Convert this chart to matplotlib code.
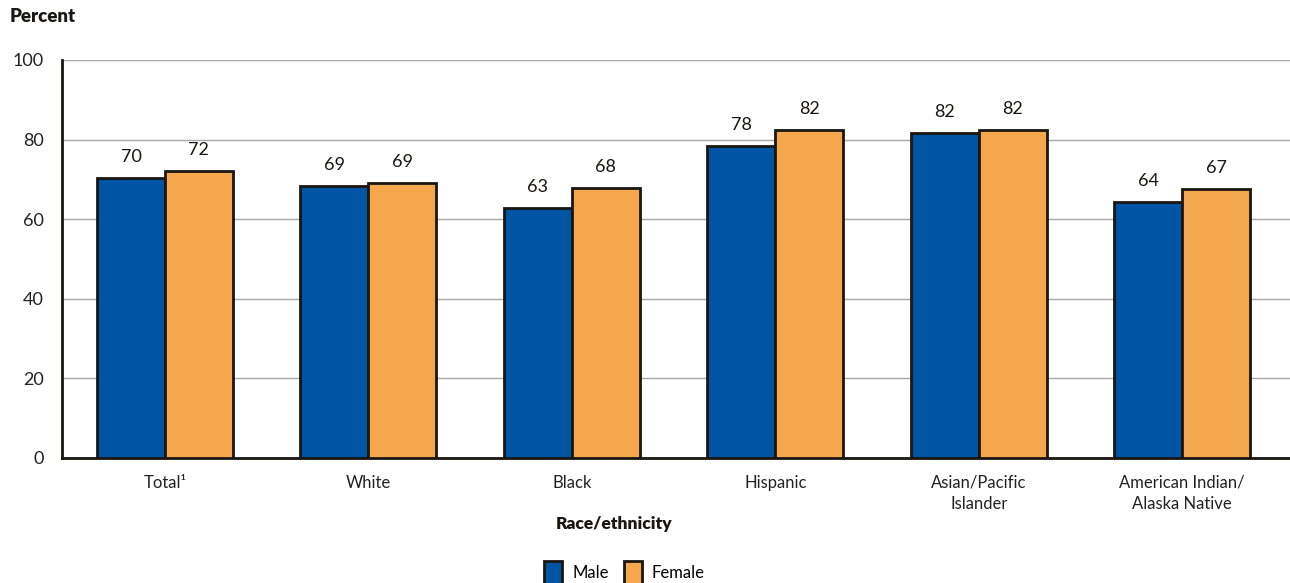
import numpy as np
import matplotlib.pyplot as plt

plt.rcParams['font.family'] = ['Lato', 'DejaVu Sans']

groups = ["Total\u00b9", "White", "Black", "Hispanic",
          "Asian/Pacific\nIslander", "American Indian/\nAlaska Native"]
male = [70.4, 68.4, 62.7, 78.3, 81.7, 64.3]
female = [72.1, 69.1, 67.8, 82.3, 82.5, 67.5]
male_lbl = ["70", "69", "63", "78", "82", "64"]
female_lbl = ["72", "69", "68", "82", "82", "67"]

blue = "#0054a4"
orange = "#f4a74c"
edge = "#1a1611"

fig = plt.figure(figsize=(12.9, 5.83), dpi=100)
ax = fig.add_axes([62/1290, 1 - 458/583, 1 - 62/1290, 398/583])

x = np.arange(len(groups))
w = 0.334
b1 = ax.bar(x - w/2, male, w, color=blue, edgecolor=edge, linewidth=2, label="Male", zorder=3)
b2 = ax.bar(x + w/2, female, w, color=orange, edgecolor=edge, linewidth=2, label="Female", zorder=3)

for bars, lbls in ((b1, male_lbl), (b2, female_lbl)):
    for r, t in zip(bars, lbls):
        ax.text(r.get_x() + r.get_width()/2, r.get_height() + 3.3, t,
                ha='center', va='bottom', fontsize=13, color=edge)

ax.set_xlim(-0.506, 5.53)
ax.set_ylim(0, 100)
ax.set_yticks([0, 20, 40, 60, 80, 100])
ax.yaxis.grid(True, color="#a8a8a8", linewidth=1, zorder=0)
ax.set_axisbelow(True)
for s in ("top", "right"):
    ax.spines[s].set_visible(False)
for s in ("left", "bottom"):
    ax.spines[s].set_linewidth(2)
    ax.spines[s].set_color(edge)
ax.tick_params(axis='y', length=0, pad=13, labelsize=13, labelcolor="#222222")
ax.tick_params(axis='x', length=0, pad=12, labelsize=12, labelcolor="#222222")
ax.set_xticks(x)
ax.set_xticklabels(groups, linespacing=1.4)

fig.text(10/1290, 1 - 17/583, "Percent", fontsize=13.5, fontweight='heavy', va='center', ha='left', color=edge)
fig.text(614/1290, 1 - 524/583, "Race/ethnicity", fontsize=12.5, fontweight='heavy', va='center', ha='center', color=edge)

fig.legend(handles=[b1, b2], loc='upper left', bbox_to_anchor=(537/1290, 1 - 554/583),
           ncol=2, frameon=False, fontsize=12, handlelength=1.1, handleheight=1.9,
           columnspacing=0.9, handletextpad=0.6, borderaxespad=0)

fig.savefig("out.png", dpi=100)
